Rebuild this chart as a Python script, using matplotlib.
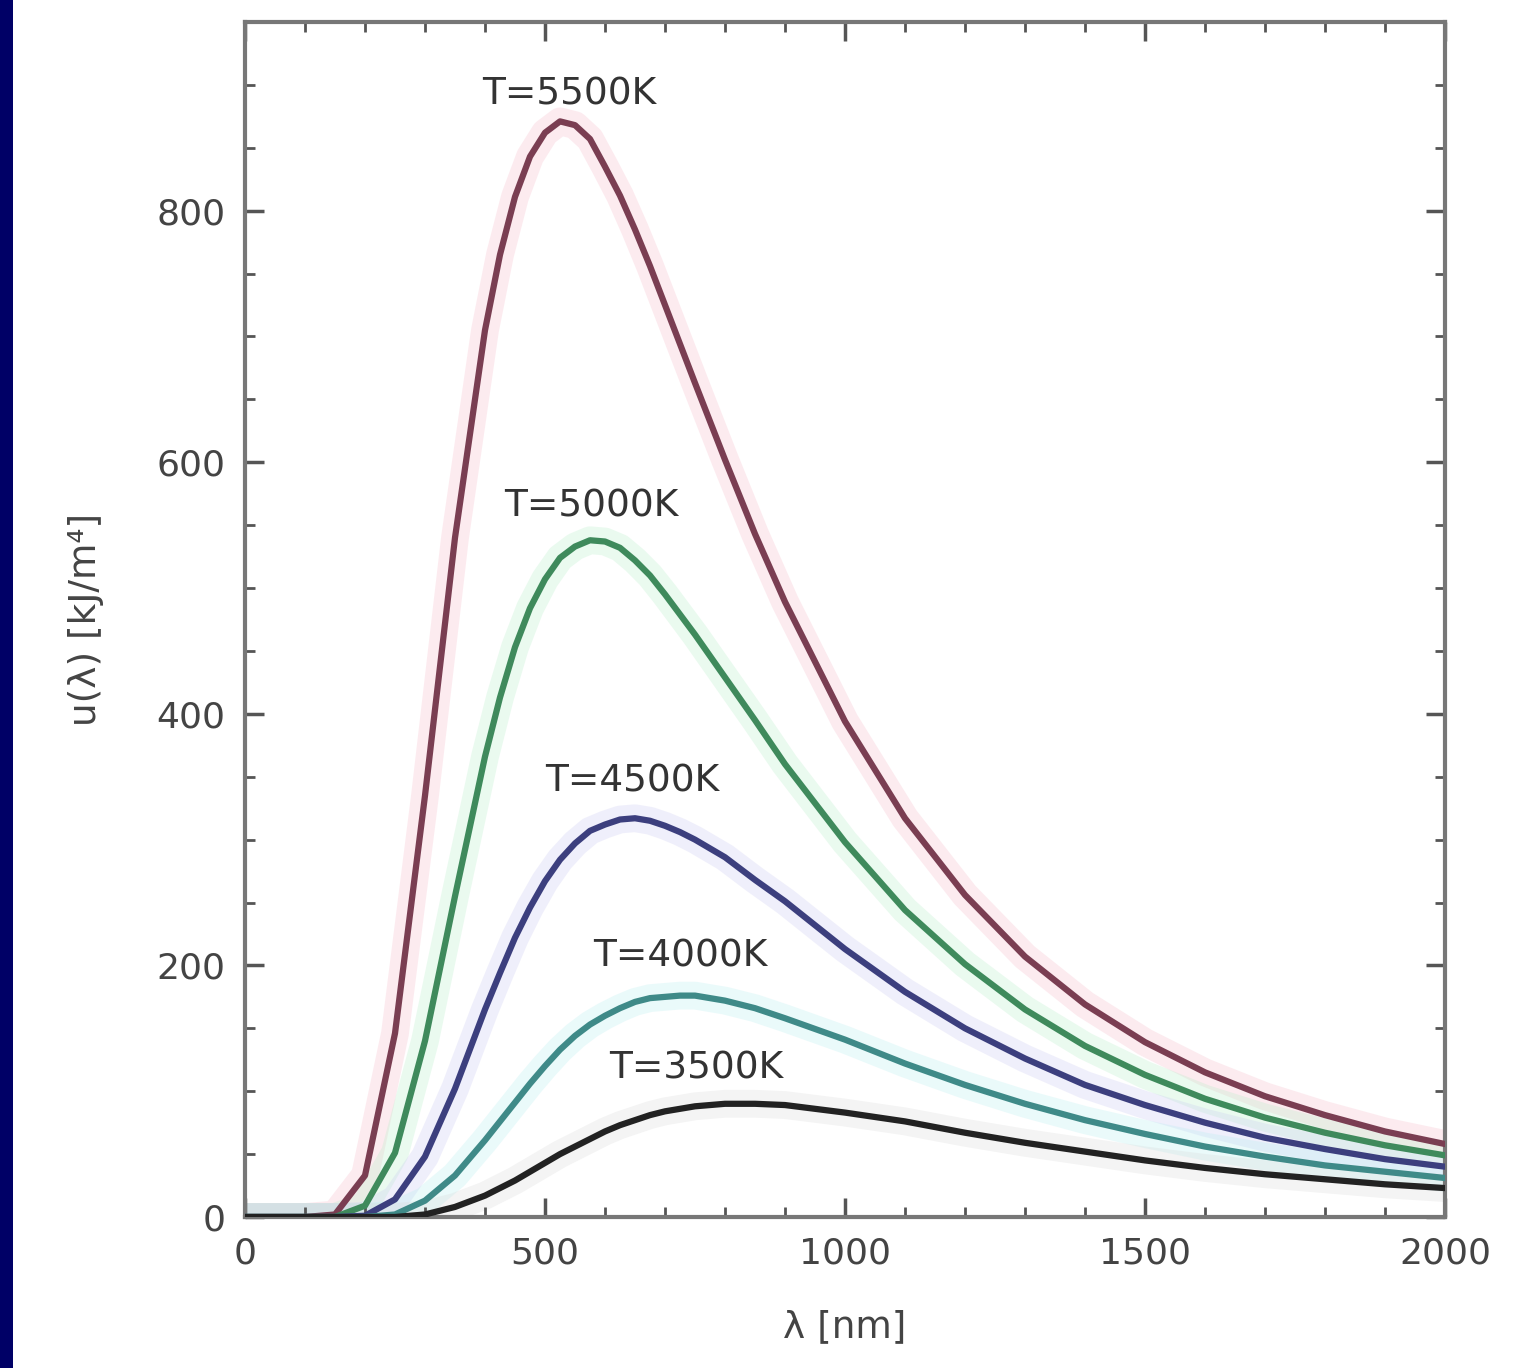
import matplotlib
matplotlib.use("Agg")
import matplotlib.pyplot as plt
from matplotlib.patches import Rectangle
from matplotlib.ticker import MultipleLocator

# wavelength grid (nm) read along the x axis
wavelength = [0, 100, 150, 200, 250, 300, 350, 400, 425, 450, 475, 500, 525, 550, 575, 600,
              625, 650, 675, 700, 725, 750, 800, 850, 900, 1000, 1100, 1200, 1300, 1400,
              1500, 1600, 1700, 1800, 1900, 2000]

u_5500 = [0, 0, 2, 33, 146, 335, 540, 705, 765, 811, 843, 862, 871, 868, 857, 835,
          812, 785, 756, 725, 694, 663, 602, 543, 489, 394, 317, 256, 207, 169,
          139, 115, 96, 81, 68, 58]
u_5000 = [0, 0, 0, 9, 51, 140, 255, 366, 413, 453, 484, 507, 524, 533, 538, 537,
          532, 522, 510, 495, 479, 463, 429, 395, 360, 298, 244, 201, 165, 136,
          113, 94, 79, 67, 57, 49]
u_4500 = [0, 0, 0, 1, 14, 48, 102, 165, 194, 222, 246, 267, 284, 297, 307, 312,
          316, 317, 315, 311, 306, 300, 286, 268, 251, 213, 179, 150, 126, 105,
          89, 75, 63, 54, 46, 40]
u_4000 = [0, 0, 0, 0, 2, 13, 33, 61, 76, 91, 106, 120, 133, 144, 153, 160,
          166, 171, 174, 175, 176, 176, 172, 166, 158, 141, 122, 105, 90, 77,
          66, 56, 48, 41, 36, 31]
u_3500 = [0, 0, 0, 0, 0, 2, 8, 17, 23, 29, 36, 43, 50, 56, 62, 68,
          73, 77, 81, 84, 86, 88, 90, 90, 89, 83, 76, 67, 59, 52,
          45, 39, 34, 30, 26, 23]

series = [
    ("T=5500K", u_5500, "#7a3e52", "#f7b8c8", (540, 892)),
    ("T=5000K", u_5000, "#3f8a5c", "#b5efc8", (578, 565)),
    ("T=4500K", u_4500, "#3c3f7e", "#c9c8f2", (645, 346)),
    ("T=4000K", u_4000, "#3f8a88", "#b5eef0", (725, 207)),
    ("T=3500K", u_3500, "#222222", "#d8d8d8", (752, 118)),
]

x_ticks = [0, 500, 1000, 1500, 2000]
y_ticks = [0, 200, 400, 600, 800]

fig = plt.figure(figsize=(15.24, 13.68), dpi=100)
fig.patch.set_facecolor("white")
fig.patches.append(Rectangle((0, 0), 13 / 1524, 1, transform=fig.transFigure,
                             facecolor="#000066", edgecolor="none", zorder=0))

ax = fig.add_axes([245 / 1524, 1 - 1217 / 1368, 1200 / 1524, (1217 - 22) / 1368])

for label, vals, col, halo, pos in series:
    ax.plot(wavelength, vals, color=halo, lw=20, alpha=0.28, solid_capstyle="butt",
            solid_joinstyle="round", zorder=1)
for label, vals, col, halo, pos in series:
    ax.plot(wavelength, vals, color=col, lw=4.5, solid_joinstyle="round", zorder=3)
    ax.text(pos[0], pos[1], label, ha="center", va="center", fontsize=27,
            color="#333333", zorder=4)

ax.set_xlim(0, 2000)
ax.set_ylim(0, 950)
ax.set_xticks(x_ticks)
ax.set_yticks(y_ticks)
ax.xaxis.set_minor_locator(MultipleLocator(100))
ax.yaxis.set_minor_locator(MultipleLocator(50))
ax.tick_params(which="both", direction="in", top=True, right=True, colors="#555555")
ax.tick_params(which="major", length=14, width=2.5, labelsize=26, labelcolor="#444444", pad=14)
ax.tick_params(which="minor", length=7, width=2)
for s in ax.spines.values():
    s.set_color("#777777")
    s.set_linewidth(3)

ax.set_xlabel("λ [nm]", fontsize=27, color="#444444", labelpad=28)
ax.set_ylabel("u(λ) [kJ/m⁴]", fontsize=27, color="#444444", labelpad=38)

fig.savefig("out.png", dpi=100)
